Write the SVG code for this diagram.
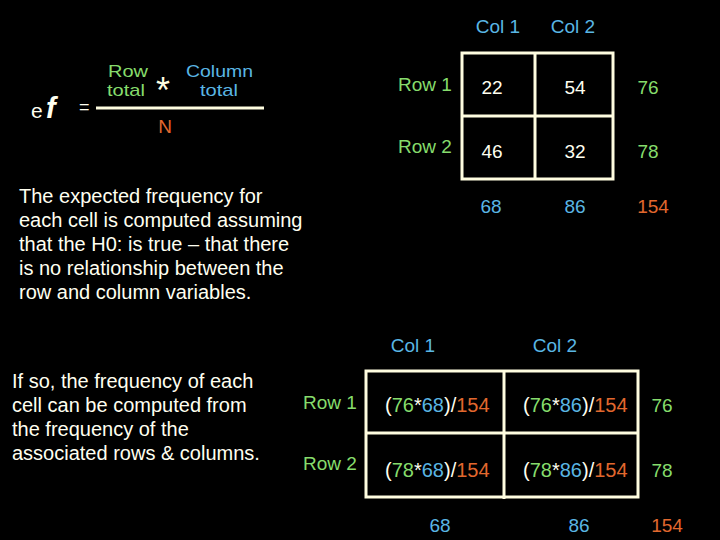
<svg xmlns="http://www.w3.org/2000/svg" width="720" height="540" viewBox="0 0 720 540">
<style>
text{font-family:"Liberation Sans",Arial,sans-serif;font-size:19px;fill:#fffff0}
.g{fill:#86dc6c}.c{fill:#5ab6e4}.o{fill:#e2682e}
.mid{text-anchor:middle}
.box{fill:none;stroke:#fffde0;stroke-width:3}
.p{font-size:20px}
.f{font-size:17px}
.cell{font-size:20px}
</style>
<rect width="720" height="540" fill="#000"/>
<g id="formula">
<text x="31" y="118" style="font-size:21px">e</text>
<text x="46" y="118" style="font-size:29px;font-weight:bold;font-style:italic">f</text>
<text x="79" y="113" style="font-size:18px">=</text>
<line x1="96" y1="108" x2="264" y2="108" stroke="#fffde0" stroke-width="3"/>
<text class="g f" x="108" y="77" textLength="40" lengthAdjust="spacingAndGlyphs">Row</text>
<text class="g f" x="107" y="96" textLength="38" lengthAdjust="spacingAndGlyphs">total</text>
<text class="mid" x="163" y="103" style="font-size:36px;fill:#fffde0">*</text>
<text class="c f" x="186" y="77" textLength="67" lengthAdjust="spacingAndGlyphs">Column</text>
<text class="c f" x="200" y="96" textLength="38" lengthAdjust="spacingAndGlyphs">total</text>
<text class="o mid" x="165" y="133">N</text>
</g>
<g id="text1">
<text class="p" x="19" y="203">The expected frequency for</text>
<text class="p" x="19" y="227">each cell is computed assuming</text>
<text class="p" x="19" y="251">that the H0: is true – that there</text>
<text class="p" x="19" y="275">is no relationship between the</text>
<text class="p" x="19" y="299">row and column variables.</text>
</g>
<g id="text2">
<text class="p" x="12" y="388">If so, the frequency of each</text>
<text class="p" x="12" y="412">cell can be computed from</text>
<text class="p" x="12" y="436">the frequency of the</text>
<text class="p" x="12" y="460">associated rows &amp; columns.</text>
</g>
<g id="observed-table">
<rect class="box" x="462" y="53" width="151" height="126"/>
<line class="box" x1="535" y1="53" x2="535" y2="179"/>
<line class="box" x1="462" y1="116" x2="613" y2="116"/>
<text class="c mid" x="498" y="33">Col 1</text>
<text class="c mid" x="573" y="33">Col 2</text>
<text class="g" x="398" y="91">Row 1</text>
<text class="g" x="398" y="153">Row 2</text>
<text class="mid" x="492" y="94">22</text>
<text class="mid" x="575" y="94">54</text>
<text class="mid" x="492" y="158">46</text>
<text class="mid" x="575" y="158">32</text>
<text class="g mid" x="648" y="94">76</text>
<text class="g mid" x="648" y="158">78</text>
<text class="c mid" x="491" y="213">68</text>
<text class="c mid" x="575" y="213">86</text>
<text class="o mid" x="653" y="213">154</text>
</g>
<g id="expected-table">
<rect class="box" x="366" y="371" width="272" height="126"/>
<line class="box" x1="504" y1="371" x2="504" y2="499"/>
<line class="box" x1="366" y1="433" x2="638" y2="433"/>
<text class="c mid" x="413" y="352">Col 1</text>
<text class="c mid" x="555" y="352">Col 2</text>
<text class="g" x="303" y="409">Row 1</text>
<text class="g" x="303" y="470">Row 2</text>
<text class="cell" x="385" y="412">(<tspan class="g">76</tspan>*<tspan class="c">68</tspan>)/<tspan class="o">154</tspan></text>
<text class="cell" x="523" y="412">(<tspan class="g">76</tspan>*<tspan class="c">86</tspan>)/<tspan class="o">154</tspan></text>
<text class="cell" x="385" y="477">(<tspan class="g">78</tspan>*<tspan class="c">68</tspan>)/<tspan class="o">154</tspan></text>
<text class="cell" x="523" y="477">(<tspan class="g">78</tspan>*<tspan class="c">86</tspan>)/<tspan class="o">154</tspan></text>
<text class="g mid" x="662" y="412">76</text>
<text class="g mid" x="662" y="477">78</text>
<text class="c mid" x="440" y="532">68</text>
<text class="c mid" x="579" y="532">86</text>
<text class="o mid" x="667" y="532">154</text>
</g>
</svg>
